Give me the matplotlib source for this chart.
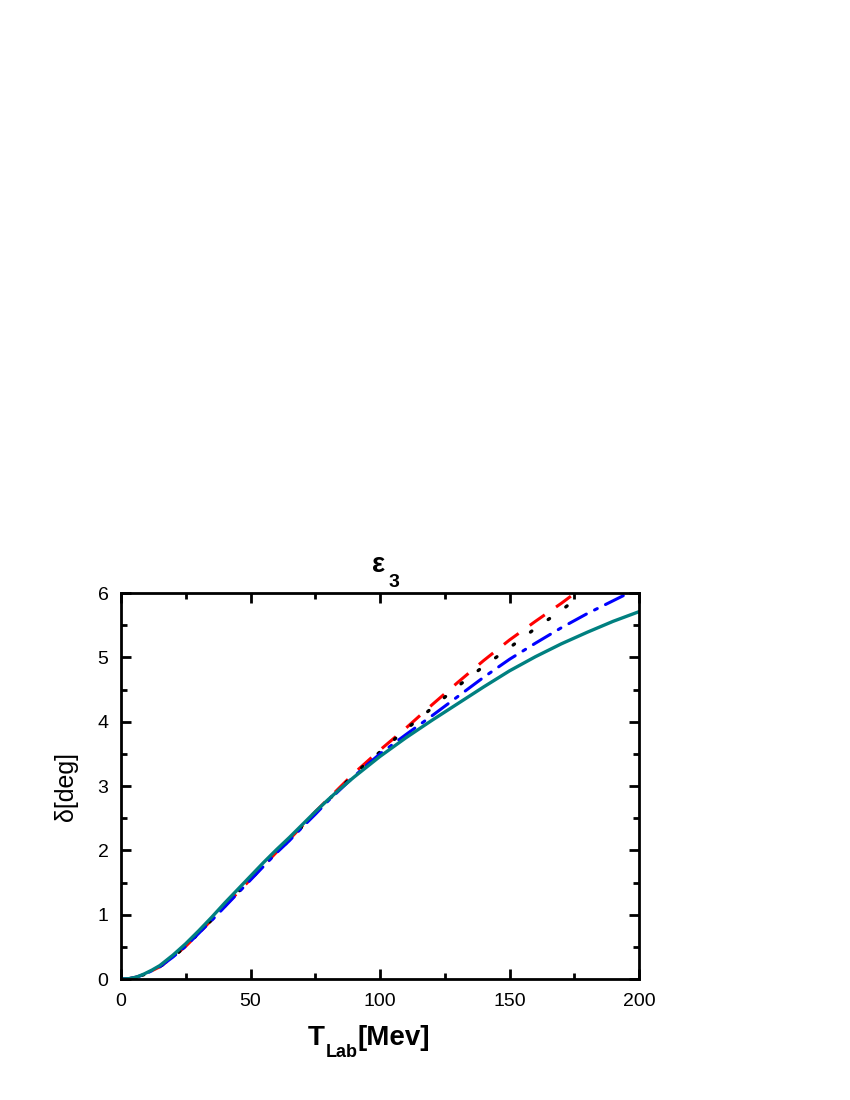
import matplotlib
matplotlib.use('Agg')
import matplotlib.pyplot as plt
from matplotlib.ticker import MultipleLocator

plt.rcParams['font.family'] = ['Liberation Sans', 'DejaVu Sans']

# teal solid curve
t_solid = [0, 3, 6, 9, 12, 15, 20, 25, 30, 35, 40, 45, 50, 55, 60, 65, 70, 75, 80, 85, 90, 95,
           100, 110, 120, 130, 140, 150, 160, 170, 180, 190, 200]
d_solid = [0, 0.005, 0.03, 0.08, 0.14, 0.21, 0.37, 0.55, 0.75, 0.96, 1.18, 1.39, 1.6, 1.81,
           2.01, 2.2, 2.4, 2.6, 2.79, 2.97, 3.14, 3.3, 3.46, 3.75, 4.02, 4.28, 4.54, 4.79,
           5.01, 5.21, 5.39, 5.56, 5.71]

# red dashed
t_red = [0, 3, 6, 9, 12, 15, 20, 25, 30, 35, 40, 45, 50, 55, 60, 65, 70, 75, 80, 85, 90, 95,
         100, 110, 120, 130, 140, 150, 160, 170, 175]
d_red = [0, 0.005, 0.03, 0.07, 0.13, 0.19, 0.34, 0.51, 0.71, 0.92, 1.13, 1.34, 1.55, 1.76,
         1.97, 2.17, 2.38, 2.6, 2.8, 3.0, 3.2, 3.38, 3.56, 3.9, 4.26, 4.61, 4.95, 5.27, 5.56,
         5.84, 5.99]

# black dotted
t_black = [0, 3, 6, 9, 12, 15, 20, 25, 30, 35, 40, 45, 50, 55, 60, 65, 70, 75, 80, 85, 90, 95,
           100, 110, 120, 130, 140, 150, 160, 170, 178]
d_black = [0, 0.005, 0.03, 0.07, 0.13, 0.19, 0.34, 0.51, 0.71, 0.92, 1.13, 1.34, 1.55, 1.76,
           1.97, 2.16, 2.37, 2.58, 2.78, 2.98, 3.18, 3.36, 3.53, 3.88, 4.21, 4.55, 4.86, 5.15,
           5.45, 5.73, 5.98]

# blue dash-dot
t_blue = [0, 3, 6, 9, 12, 15, 20, 25, 30, 35, 40, 45, 50, 55, 60, 65, 70, 75, 80, 85, 90, 95,
          100, 110, 120, 130, 140, 150, 160, 170, 180, 190, 195]
d_blue = [0, 0.005, 0.03, 0.07, 0.13, 0.19, 0.34, 0.51, 0.71, 0.91, 1.12, 1.33, 1.54, 1.75,
          1.96, 2.15, 2.36, 2.56, 2.77, 2.96, 3.15, 3.33, 3.5, 3.8, 4.09, 4.39, 4.69, 4.97,
          5.22, 5.46, 5.68, 5.88, 5.98]

fig = plt.figure(figsize=(8.5, 11), dpi=100)
ax = fig.add_axes([0.1424, 0.11, 0.6094, 0.3509])

ax.plot(t_red, d_red, color='red', lw=2.2, dashes=(6, 4.5))
ax.plot(t_black, d_black, color='black', lw=2.4, dashes=(0.5, 6), dash_capstyle='round')
ax.plot(t_blue, d_blue, color='blue', lw=2.2, dashes=(6.5, 3, 1, 3), dash_capstyle='round')
ax.plot(t_solid, d_solid, color='#008080', lw=2.4)

ax.set_xlim(0, 200)
ax.set_ylim(0, 6)
ax.xaxis.set_major_locator(MultipleLocator(50))
ax.xaxis.set_minor_locator(MultipleLocator(25))
ax.yaxis.set_major_locator(MultipleLocator(1))
ax.yaxis.set_minor_locator(MultipleLocator(0.5))
ax.tick_params(which='both', direction='in', top=True, right=True, width=2, labelsize=14)
ax.tick_params(which='major', length=7)
ax.tick_params(which='minor', length=4)
ax.tick_params(axis='x', which='major', pad=10)
ax.tick_params(axis='y', which='major', pad=9)
for s in ax.spines.values():
    s.set_linewidth(2)

# y label
ax.set_ylabel('δ[deg]', fontsize=18)
ax.yaxis.set_label_coords(-0.083, 0.5)

# x label: T_Lab[Mev] with a deep subscript
kw = dict(xycoords='axes fraction', textcoords='offset pixels', fontweight='bold',
          va='baseline', ha='left', annotation_clip=False)
ax.annotate('T', xy=(0, 0), xytext=(187, -66), fontsize=20, **kw)
ax.annotate('Lab', xy=(0, 0), xytext=(205, -78), fontsize=13, **kw)
ax.annotate('[Mev]', xy=(0, 0), xytext=(236, -66), fontsize=20, **kw)

# title: epsilon_3
ax.annotate('ε', xy=(0.5, 1), xytext=(-8, 21), fontsize=20, **kw)
ax.annotate('3', xy=(0.5, 1), xytext=(8, 6), fontsize=14, **kw)

fig.savefig('out.png', dpi=100)
